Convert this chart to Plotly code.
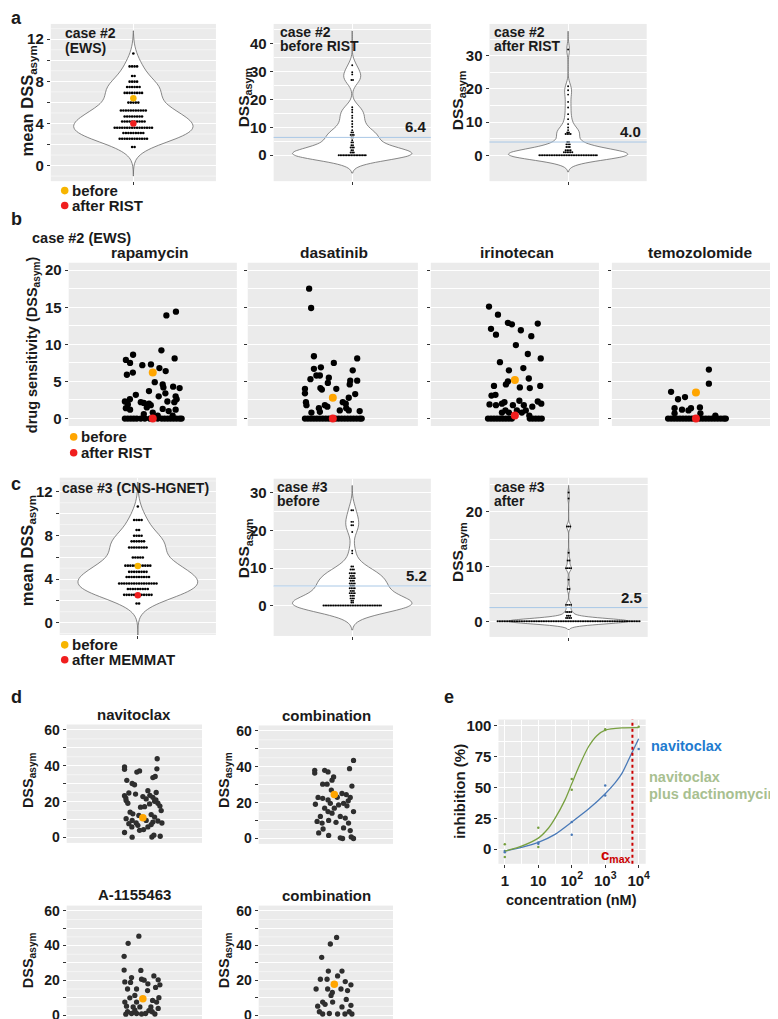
import numpy as np
import plotly.graph_objects as go

W, H = 778, 1019
FONT = "Liberation Sans, Arial, sans-serif"
BG = "#EBEBEB"
INK = "#1a1a1a"
GOLD = "#F7B500"
ORANGE = "#FFA500"
RED = "#F01E1E"
DGREY = "#2e2e2e"
MEANLINE = "#A9C8E6"
GREEN = "#78A040"
GREEN_LABEL = "#A8C090"
BLUE = "#4A7AB8"
BLUE_LABEL = "#1E7BCF"
CMAX = "#CC0000"

# ======================= DATA =======================
# panel a / c (left): mean DSS_asym distribution, dot-plot rows
ref_levels = [1.76, 2.55, 3.09, 3.59, 4.19, 4.66, 5.23, 5.98, 6.90, 7.46, 7.97, 8.50, 9.42, 10.65]
ref_counts = [2, 12, 9, 16, 10, 8, 11, 5, 8, 6, 4, 2, 4, 1]
case2_before_mean = 6.4
case2_after_mean = 4.0
case3_before_mean = 5.2
case3_after_mean = 2.5

# panel a: case #2, per-drug DSS_asym before / after RIST
a2_levels = [0, 1.0, 1.8, 2.8, 3.6, 4.6, 5.4, 6.4, 7.3, 8.2, 9.0, 10.2, 11.2, 12.2, 13.4, 14.2, 15.4, 16.3, 17.2, 27.0, 29.0, 29.8, 32.3]
a2_counts = [18, 3, 2, 3, 2, 2, 1, 2, 3, 2, 1, 1, 1, 1, 1, 1, 1, 1, 1, 2, 1, 1, 1]
a3_levels = [0, 0.9, 1.5, 2.5, 3.3, 4.0, 6.4, 6.9, 7.6, 8.4, 9.4, 10.9, 12.4, 14.4, 16.1, 18.3, 19.6, 20.8, 31.9]
a3_counts = [35, 6, 4, 3, 3, 2, 4, 2, 1, 1, 1, 1, 1, 1, 1, 1, 1, 1, 1]

# panel c: case #3 per-drug DSS_asym before / after MEMMAT
c2_levels = [0, 0.8, 1.3, 1.9, 2.6, 3.3, 3.9, 4.6, 5.3, 5.9, 6.6, 7.3, 7.9, 8.6, 9.6, 10.4, 13.9, 14.6, 19.6, 21.4, 22.3, 25.4]
c2_counts = [35, 2, 2, 3, 3, 4, 3, 4, 3, 4, 3, 4, 3, 4, 3, 2, 1, 1, 1, 2, 2, 2]
c3_levels = [0, 0.6, 1.0, 1.7, 3.0, 5.9, 7.6, 9.7, 11.1, 12.5, 17.3, 22.4, 23.5]
c3_counts = [85, 4, 3, 4, 4, 2, 1, 4, 2, 1, 3, 1, 1]

# panel b: case #2 (EWS) drug sensitivity, jitter offset + DSS
b_drugs = ["rapamycin", "dasatinib", "irinotecan", "temozolomide"]
b_before = [6.2, 2.8, 5.2, 3.5]
b_after = [0.0, 0.0, 0.4, 0.0]
rapa_jit = [13.7, 23.3, -19.8, -27, -22.8, -10.5, -1.8, 8.7, 6.7, 13, 22, -26, -20, 2, 10, 10.7, 20.5, 27, -17, -3.8,
            12.7, 23, -28, -25, -23, -12, -9, -3.8, 6, 14.7, 21.7, 24, -27, -22.8, -6, -2, 10, 16, 23, -9, 0, 5, 20,
            -28, -25, -22, -19, -16, -12, -8, -3, 5, 9, 12, 15, 18, 21, 24, 27, 29]
rapa_dss = [13.9, 14.4, 8.6, 7.9, 7.5, 7.2, 7.3, 9.2, 6.8, 6.4, 8.1, 5.9, 6.2, 4.9, 4.6, 4.2, 4.3, 4.1, 3.2, 3.7,
            3.4, 3.0, 2.3, 1.9, 2.6, 2.2, 2.1, 2.0, 3.0, 2.3, 2.2, 2.6, 1.4, 1.2, 1.5, 1.8, 1.3, 1.0, 1.2, 0.6, 0.8, 0.4, 0.4,
            0, 0, 0, 0, 0, 0, 0, 0, 0, 0, 0, 0, 0, 0, 0, 0, 0]
dasa_jit = [-23.8, -21.8, -19, 24.5, 1, -12, -19, 20, -16.5, -22.5, -13, -4, 17.5, 24.5, -5, 17, -12.5, -11, 3.5, -28,
            -28, 22.5, -27, -26.5, -14, -8, -5.5, 10, 13, 16, 13.5, 7, -21.5, -13, 27, 16,
            -28, -25, -22, -19, -16, -13, -10, -7, -4, 3, 6, 9, 12, 15, 18, 21, 24, 27, 29]
dasa_dss = [17.5, 14.9, 8.4, 8.1, 7.5, 6.9, 6.7, 6.5, 5.8, 5.3, 5.8, 5.5, 5.1, 5.1, 4.8, 4.6, 4.1, 3.9, 4.0, 4.0,
            3.4, 3.3, 2.2, 1.8, 1.4, 1.8, 1.6, 2.2, 2.0, 2.8, 1.4, 1.1, 0.8, 0.9, 1.0, 1.1,
            0, 0, 0, 0, 0, 0, 0, 0, 0, 0, 0, 0, 0, 0, 0, 0, 0, 0, 0]
irino_jit = [-26, -17, -7, -3, 23, -24, -19, 6, 16.5, 1, 13, 26, -15, 8.5, -6, 14, -7, -9, -21, 5,
             15, 25.5, -23.5, -19.5, 4.5, -25.5, -19, -13, -10.5, -2, 9, 11, 17.5, 23, 26.5, -9.5, -13, -6, 2, 7, 14.5,
             -27, -24, -21, -18, -15, -12, -9, -6, -3, 15, 18, 21, 24, 27]
irino_dss = [15.1, 14.0, 12.9, 12.7, 12.8, 12.1, 11.3, 11.9, 11.1, 9.9, 8.7, 8.1, 7.6, 6.8, 6.5, 5.4, 5.0, 4.6, 4.4, 4.2,
             4.1, 4.4, 3.1, 3.2, 2.4, 1.9, 1.8, 2.0, 2.2, 1.8, 1.8, 1.1, 1.6, 2.3, 2.0, 1.1, 0.8, 0.8, 1.1, 0.8, 0.4,
             0, 0, 0, 0, 0, 0, 0, 0, 0, 0, 0, 0, 0, 0]
temo_jit = [13, 13, -25, -11, -18, -21.5, -14, -7.5, -5, 4, -21.5, 4.5, 19.5,
            -28, -25, -22, -19, -16, -13, -10, -7, -4, -1, 4, 7, 10, 13, 16, 19, 22, 25, 28, 30]
temo_dss = [6.6, 4.7, 3.6, 2.9, 2.6, 1.4, 1.2, 1.1, 1.4, 1.5, 0.7, 0.7, 0.4,
            0, 0, 0, 0, 0, 0, 0, 0, 0, 0, 0, 0, 0, 0, 0, 0, 0, 0, 0, 0]

# panel d: jitter offset + DSS_asym
d_titles = ["navitoclax", "combination", "A-1155463", "combination"]
d_highlight = [11.0, 24.6, 9.4, 17.8]
nav_jit = [14.3, -18.3, -18.3, 14, -6, -3.3, 10, 12.3, -16, -10.7, -8.3, -18.3, -14, -7.3, 5, 13.3, 0, 3.3, 10, 11.7,
           15, -16.7, -15, -2.3, 1.7, 6.7, 18.3, -12.7, -10, -4, 8.3, 11.7, -16.7, -10.7, -14, -6.7, 3.3, 10, 15, 19,
           -11, -5, 0.7, 5, 8.3, -18.3, -3.3, -10.7, 9, 11, 17.3, 7, 13, 17, -17]
nav_dss = [43.9, 39.3, 38.0, 38.3, 36.5, 37.1, 33.4, 34.0, 31.9, 30.1, 29.4, 23.3, 24.8, 24.2, 26.1, 25.1, 22.8, 21.5, 22.4, 20.2,
           19.1, 20.6, 19.1, 16.9, 17.2, 18.7, 15.0, 14.1, 13.2, 12.3, 12.8, 11.4, 10.5, 9.5, 7.7, 8.1, 9.5, 8.6, 9.2, 8.1,
           5.9, 6.8, 4.4, 5.9, 7.2, 2.8, 4.0, 0.2, 0.3, 1.3, 0.7, 23.5, 21.0, 17.5, 22.0]
comb1_jit = [19.3, 15.3, -19.7, -19.7, -9.7, -6.3, -0.7, -2.3, -11.7, -7.3, 17.7, 7.7, -16.3, -11.7, -6.3, 16, -19, -4, 4.3, 9.3,
             12.7, -9.7, 0, 19.3, -6.3, -2.3, -14, 6, 11, -17.3, -12.3, -5.7, 1.7, 14.3, 9.3, -15.7, -11.3, -5.7, 16, 6,
             8.3, 17, 19.3, 12, 14, -3, 3]
comb1_dss = [43.5, 38.9, 38.0, 36.5, 38.0, 37.1, 34.3, 32.5, 30.3, 30.3, 29.2, 25.1, 22.9, 22.4, 21.5, 22.9, 19.1, 19.6, 18.7, 19.6,
             18.2, 16.9, 16.9, 15.0, 15.0, 14.1, 12.3, 12.3, 11.4, 9.5, 8.6, 10.1, 9.0, 8.6, 5.9, 3.1, 5.3, 1.7, 4.4, 0.4,
             0, 0.9, 0, 24.5, 21.0, 27.0, 23.0]
a115_jit = [-4, -14.7, -18.7, -18.7, -2, -11.3, -18, -12.3, -1.3, 1.3, 11, 15.3, 17, 12.7, -6.3, -15.3, 4.7, -8, -13, -18,
            -6.3, 9.7, 13.7, -16.3, -9.7, -3, 8, 15.3, -15.3, -11.3, -6.3, -1.3, 2.7, 9.3, 12, -17, 6, -8, 16, 5]
a115_dss = [45.4, 41.3, 33.8, 25.9, 25.7, 21.6, 19.1, 18.8, 20.6, 20.1, 22.5, 20.3, 17.4, 15.9, 15.0, 15.0, 14.1, 11.3, 9.9, 7.5,
            7.5, 8.4, 7.5, 5.1, 4.7, 4.7, 4.7, 3.8, 1.9, 0.9, 0.9, 0.6, 0.9, 1.9, 0.6, 0.5, 2.5, 2.8, 10.0, 18.0]
comb2_jit = [2.3, -4, -12.7, -6, 7.7, -14, -7.3, 3.3, 11, 16.7, -18.3, -6.7, 6.7, 13.3, -3.3, -11.7, -9.3, -16.7, -1.7, 16.7,
             7.7, -15, -11.7, -5, 3.3, 10.7, 15, 17.7, -2, 12]
comb2_dss = [44.7, 40.9, 33.2, 25.3, 25.3, 20.6, 20.6, 22.5, 19.3, 17.4, 15.0, 15.0, 15.0, 14.1, 11.3, 7.5, 6.2, 5.1, 7.5, 5.6,
             4.7, 1.9, 0.6, 0.9, 0.6, 0.6, 1.9, 0.6, 13.0, 9.0]

# panel e: dose response (concentration nM, inhibition %)
e_x_labels = ["1", "10", "10<sup>2</sup>", "10<sup>3</sup>", "10<sup>4</sup>"]
combo_curve_conc = [1, 3.16, 10, 20, 31.6, 63, 100, 158, 316, 562, 1000, 3162, 10000]
combo_curve_inh = [-1.5, 2.5, 9.0, 17.0, 25.0, 40.0, 53.0, 66.0, 83.0, 92.0, 96.5, 98.3, 98.5]
navi_curve_conc = [1, 3.16, 10, 31.6, 100, 316, 1000, 2000, 3162, 5000, 6500, 10000]
navi_curve_inh = [-1.5, 1.5, 5.5, 12.0, 22.0, 32.5, 45.0, 54.0, 61.5, 72.5, 79.0, 89.5]
combo_pts_conc = [1, 1, 10, 10, 100, 100, 1000, 1000, 10000]
combo_pts_inh = [4.0, -6.2, 17.5, 1.9, 57.0, 48.1, 97.3, 96.5, 99.2]
navi_pts_conc = [1, 1, 10, 10, 100, 100, 1000, 1000, 10000]
navi_pts_inh = [-1.5, -2.5, 5.4, 4.5, 22.0, 11.8, 51.6, 43.5, 81.2]
cmax_conc = 6500

# ======================= FIGURE =======================
fig = go.Figure()
layout = {}
shapes = []
ann = []


def keys(n):
    s = '' if n == 1 else str(n)
    return 'xaxis' + s, 'yaxis' + s, 'x' + s, 'y' + s


def set_axes(n, box, xrange, yrange, ytick, yminor=None, yminor_ticks=False, fine_grid=None,
             xtype='linear', xtick=None, xlab=None, xgrid=False, xminor=None, xticks_on=False,
             tfs=14, ylabels=True):
    xl, xr, yt, yb = box
    xk, yk, xs, ys = keys(n)
    xa = dict(domain=[xl / W, xr / W], range=xrange, anchor=ys, type=xtype, zeroline=False,
              showline=False, showgrid=xgrid, gridcolor='white', gridwidth=1.1, fixedrange=True)
    if xtick is not None:
        xa.update(tickmode='array', tickvals=xtick, ticks='outside' if xticks_on else '',
                  ticklen=3, tickcolor='#333', tickwidth=1, tickfont=dict(size=tfs, color=INK))
        if xlab is None:
            xa['showticklabels'] = False
        else:
            xa.update(ticktext=xlab, showticklabels=True)
    else:
        xa.update(showticklabels=False, ticks='')
    if xminor is not None:
        xa['minor'] = dict(tickmode='array', tickvals=xminor, showgrid=True, gridcolor='white', gridwidth=0.5, ticks='')
    ya = dict(domain=[1 - yb / H, 1 - yt / H], range=yrange, anchor=xs, zeroline=False, showline=False,
              showgrid=True, gridcolor='white', gridwidth=1.1, tickmode='array', tickvals=ytick,
              showticklabels=ylabels, ticks='outside', ticklen=3, tickcolor='#333', tickwidth=1,
              tickfont=dict(size=tfs, color=INK), fixedrange=True)
    if yminor is not None:
        ya['minor'] = dict(tickmode='array', tickvals=yminor, showgrid=True,
                           gridcolor='white', gridwidth=1.1 if yminor_ticks else 0.5,
                           ticks='outside' if yminor_ticks else '', ticklen=3, tickcolor='#333', tickwidth=1)
    if fine_grid is not None:
        for v in fine_grid:
            shapes.append(dict(type='line', xref=xs + ' domain', x0=0, x1=1, yref=ys, y0=v, y1=v,
                               line=dict(color='white', width=0.5), layer='below'))
    layout[xk] = xa
    layout[yk] = ya
    return xs, ys


def stack_rows(levels, counts, spacing):
    xs, ys = [], []
    for lv, c in zip(levels, counts):
        for i in range(c):
            xs.append((i - (c - 1) / 2) * spacing)
            ys.append(lv)
    return xs, ys


def text(x, y, s, size=14, color=INK, xanchor='left', yanchor='middle', angle=0):
    ann.append(dict(x=x / W, y=1 - y / H, xref='paper', yref='paper', text=s, showarrow=False,
                    xanchor=xanchor, yanchor=yanchor, textangle=angle,
                    font=dict(size=size, color=color, family=FONT, weight='bold')))


def violin_panel(n, box, yrange, ytick, yminor, yminor_ticks, fine_grid, levels, counts, bw, span, spacing, dsize):
    pw = box[1] - box[0]
    xs, ys = set_axes(n, box, [-pw / 2, pw / 2], yrange, ytick, yminor, yminor_ticks, fine_grid,
                      xtick=[0], xlab=None, xgrid=True, xticks_on=True, tfs=15)
    vals = np.repeat(levels, counts)
    fig.add_trace(go.Violin(y=vals, x0=0, xaxis=xs, yaxis=ys, bandwidth=bw, spanmode='manual', span=span,
                            width=120, scalemode='width', points=False, fillcolor='white',
                            line=dict(color='#6a6a6a', width=0.8), box_visible=False, meanline_visible=False,
                            hoverinfo='skip', showlegend=False))
    dx, dy = stack_rows(levels, counts, spacing)
    fig.add_trace(go.Scatter(x=dx, y=dy, xaxis=xs, yaxis=ys, mode='markers',
                             marker=dict(color='black', size=dsize, line=dict(width=0)),
                             hoverinfo='skip', showlegend=False))
    return xs, ys


# ---------------- panel a ----------------
odd_grid = [-1, 1, 3, 5, 7, 9, 11, 13]
xs, ys = violin_panel(1, (43, 209, 13, 171), [-1.48, 13.45], [0, 4, 8, 12], [2, 6, 10], True, odd_grid,
                      ref_levels, ref_counts, 0.9, [-1.0, 12.8], 2.5, 2.6)
fig.add_trace(go.Scatter(x=[0, 0], y=[case2_before_mean, case2_after_mean], xaxis=xs, yaxis=ys, mode='markers',
                         marker=dict(color=[GOLD, RED], size=6.5, line=dict(width=0)), showlegend=False, hoverinfo='skip'))
violin_panel(2, (267, 425, 13, 171), [-9.3, 47.1], [0, 10, 20, 30, 40], [5, 15, 25, 35, 45], False, None,
             a2_levels, a2_counts, 2.1, [-6.4, 44.6], 1.6, 1.9)
violin_panel(3, (484, 642, 13, 171), [-7.8, 39.6], [0, 10, 20, 30], [5, 15, 25, 35], False, None,
             a3_levels, a3_counts, 1.6, [-5.0, 37.4], 1.7, 1.9)

# ---------------- panel c ----------------
xs, ys = violin_panel(8, (52, 209, 469, 627), [-1.13, 13.3], [0, 4, 8, 12], [2, 6, 10], True, odd_grid,
                      ref_levels, ref_counts, 0.9, [-1.2, 12.9], 2.5, 2.6)
fig.add_trace(go.Scatter(x=[0, 0], y=[case3_before_mean, case3_after_mean], xaxis=xs, yaxis=ys, mode='markers',
                         marker=dict(color=[GOLD, RED], size=6.5, line=dict(width=0)), showlegend=False, hoverinfo='skip'))
violin_panel(9, (267, 425, 470, 628), [-8.1, 33.8], [0, 10, 20, 30], [5, 15, 25], False, None,
             c2_levels, c2_counts, 2.1, [-6.5, 32.0], 1.7, 1.9)
violin_panel(10, (484, 643, 469, 629), [-2.85, 26.2], [0, 10, 20], [5, 15, 25], False, None,
             c3_levels, c3_counts, 0.5, [-1.5, 24.8], 1.7, 1.9)

# mean lines + labels
for n, m, lab_x, lab in [(2, 6.4, 423, '6.4'), (3, 4.0, 638, '4.0'), (9, 5.2, 423, '5.2'), (10, 2.5, 639, '2.5')]:
    s = str(n)
    shapes.append(dict(type='line', xref='x%s domain' % s, x0=0, x1=1, yref='y' + s, y0=m, y1=m,
                       line=dict(color=MEANLINE, width=1), layer='above'))
    ann.append(dict(x=lab_x / W, xref='paper', y=m, yref='y' + s, text=lab, showarrow=False,
                    xanchor='right', yanchor='bottom', yshift=0,
                    font=dict(size=15, color=INK, family=FONT, weight='bold')))

# ---------------- panel b ----------------
b_boxes = [(61, 230), (241, 412), (425, 594), (607, 776)]
b_jits = [rapa_jit, dasa_jit, irino_jit, temo_jit]
b_vals = [rapa_dss, dasa_dss, irino_dss, temo_dss]
for i in range(4):
    n = 4 + i
    l, r = b_boxes[i]
    xs, ys = set_axes(n, (l, r, 253, 417), [-(r - l) / 2, (r - l) / 2], [-1, 21], [0, 5, 10, 15, 20],
                      [2.5, 7.5, 12.5, 17.5], False, None, tfs=15, ylabels=(i == 0))
    fig.add_trace(go.Scatter(x=b_jits[i], y=b_vals[i], xaxis=xs, yaxis=ys, mode='markers',
                             marker=dict(color='black', size=6.3, line=dict(width=0)), showlegend=False, hoverinfo='skip'))
    fig.add_trace(go.Scatter(x=[0, 0], y=[b_before[i], b_after[i]], xaxis=xs, yaxis=ys, mode='markers',
                             marker=dict(color=[ORANGE, RED], size=8, line=dict(width=0)), showlegend=False, hoverinfo='skip'))
b_title_x = [142.5, 327.5, 512, 696]
for i in range(4):
    text(b_title_x[i], 243, b_drugs[i], size=15.5, xanchor='center')

# ---------------- panel d ----------------
d_boxes = [(59, 195, 717, 836), (252, 387, 718, 837), (59, 195, 899, 1016), (252, 387, 899, 1016)]
d_ranges = [[-3, 63], [-3, 63], [-4, 63], [-4, 63]]
d_jits = [nav_jit, comb1_jit, a115_jit, comb2_jit]
d_vals = [nav_dss, comb1_dss, a115_dss, comb2_dss]
for i in range(4):
    n = 11 + i
    xs, ys = set_axes(n, d_boxes[i], [-76, 59], d_ranges[i], [0, 20, 40, 60], [10, 30, 50], True,
                      [5, 15, 25, 35, 45, 55], tfs=14)
    fig.add_trace(go.Scatter(x=d_jits[i], y=d_vals[i], xaxis=xs, yaxis=ys, mode='markers',
                             marker=dict(color=DGREY, size=5.3, line=dict(width=0)), showlegend=False, hoverinfo='skip'))
    fig.add_trace(go.Scatter(x=[0], y=[d_highlight[i]], xaxis=xs, yaxis=ys, mode='markers',
                             marker=dict(color=ORANGE, size=7.5, line=dict(width=0)), showlegend=False, hoverinfo='skip'))
d_title_pos = [(127, 707), (320, 708), (127, 888), (320, 889)]
for i in range(4):
    text(d_title_pos[i][0], d_title_pos[i][1], d_titles[i], size=15, xanchor='center')

# ---------------- panel e ----------------
xs, ys = set_axes(15, (493, 641, 712, 857), [-0.19, 4.21], [-11.8, 105.1], [0, 25, 50, 75, 100],
                  [12.5, 37.5, 62.5, 87.5], False, None, xtype='log',
                  xtick=[1, 10, 100, 1000, 10000], xlab=e_x_labels, xgrid=True,
                  xminor=[3.162, 31.62, 316.2, 3162], xticks_on=True, tfs=15)
fig.add_trace(go.Scatter(x=navi_pts_conc, y=navi_pts_inh, xaxis=xs, yaxis=ys, mode='markers',
                         marker=dict(color=BLUE, size=2.5), showlegend=False, hoverinfo='skip'))
fig.add_trace(go.Scatter(x=combo_pts_conc, y=combo_pts_inh, xaxis=xs, yaxis=ys, mode='markers',
                         marker=dict(color=GREEN, size=2.5), showlegend=False, hoverinfo='skip'))
fig.add_trace(go.Scatter(x=navi_curve_conc, y=navi_curve_inh, xaxis=xs, yaxis=ys, mode='lines',
                         line=dict(color=BLUE, width=1.3, shape='spline', smoothing=0.7), showlegend=False, hoverinfo='skip'))
fig.add_trace(go.Scatter(x=combo_curve_conc, y=combo_curve_inh, xaxis=xs, yaxis=ys, mode='lines',
                         line=dict(color=GREEN, width=1.3, shape='spline', smoothing=0.7), showlegend=False, hoverinfo='skip'))
shapes.append(dict(type='line', xref='x15', x0=cmax_conc, x1=cmax_conc, yref='y15 domain', y0=0, y1=1,
                   line=dict(color=CMAX, width=2, dash='dot'), layer='above'))

# ---------------- text ----------------
# panel letters
text(1, 7, 'a', size=18)
text(1, 209, 'b', size=18)
text(1, 475, 'c', size=18)
text(1, 689, 'd', size=18)
text(436, 689, 'e', size=18)

# panel a titles
text(55, 22, 'case #2', size=14)
text(55, 37, '(EWS)', size=14)
text(271, 21, 'case #2', size=14)
text(271, 35, 'before RIST', size=14)
text(486, 21, 'case #2', size=14)
text(486, 35, 'after RIST', size=14)
# panel c titles
text(52, 479, 'case #3 (CNS-HGNET)', size=14)
text(268, 478, 'case #3', size=14)
text(268, 492, 'before', size=14)
text(486, 478, 'case #3', size=14)
text(486, 492, 'after', size=14)
# b header
text(22, 228, 'case #2 (EWS)', size=14.5)

# y-axis titles
text(20, 90, 'mean DSS<sub>asym</sub>', size=16.5, xanchor='center', angle=-90)
text(238, 87, 'DSS<sub>asym</sub>', size=15.5, xanchor='center', angle=-90)
text(453, 90, 'DSS<sub>asym</sub>', size=15.5, xanchor='center', angle=-90)
text(25, 335, 'drug sensitivity (DSS<sub>asym</sub>)', size=14.5, xanchor='center', angle=-90)
text(20, 542, 'mean DSS<sub>asym</sub>', size=16.5, xanchor='center', angle=-90)
text(238, 540, 'DSS<sub>asym</sub>', size=15.5, xanchor='center', angle=-90)
text(453, 544, 'DSS<sub>asym</sub>', size=15.5, xanchor='center', angle=-90)
text(21, 773, 'DSS<sub>asym</sub>', size=14.5, xanchor='center', angle=-90)
text(218, 773, 'DSS<sub>asym</sub>', size=14.5, xanchor='center', angle=-90)
text(21, 954, 'DSS<sub>asym</sub>', size=14.5, xanchor='center', angle=-90)
text(218, 954, 'DSS<sub>asym</sub>', size=14.5, xanchor='center', angle=-90)
text(453, 784, 'inhibition (%)', size=15, xanchor='center', angle=-90)
text(566, 893, 'concentration (nM)', size=14.5, xanchor='center')

# panel e labels
text(644, 739, 'navitoclax', size=14.5, color=BLUE_LABEL)
text(642, 770, 'navitoclax', size=14.5, color=GREEN_LABEL)
text(642, 787, 'plus dactinomycin', size=14.5, color=GREEN_LABEL)
text(628, 849, 'c<sub>max</sub>', size=15, color=CMAX, xanchor='right')

# legends (dot + label)
for (cx, cy, col, lab) in [(57, 180.5, GOLD, 'before'), (57, 195.5, RED, 'after RIST'),
                           (66, 428, ORANGE, 'before'), (66, 444, RED, 'after RIST'),
                           (57, 637, GOLD, 'before'), (57, 652, RED, 'after MEMMAT')]:
    r = 3.8
    shapes.append(dict(type='circle', xref='paper', yref='paper', x0=(cx - r) / W, x1=(cx + r) / W,
                       y0=1 - (cy + r) / H, y1=1 - (cy - r) / H, fillcolor=col, line=dict(width=0)))
    text(cx + 5, cy, lab, size=15)

layout.update(dict(width=W, height=H, margin=dict(l=0, r=0, t=0, b=0), paper_bgcolor='white',
                   plot_bgcolor=BG, showlegend=False, shapes=shapes, annotations=ann,
                   font=dict(family=FONT, color=INK, weight='bold'), violinmode='overlay'))
fig.update_layout(**layout)
fig.write_html("out.html")
